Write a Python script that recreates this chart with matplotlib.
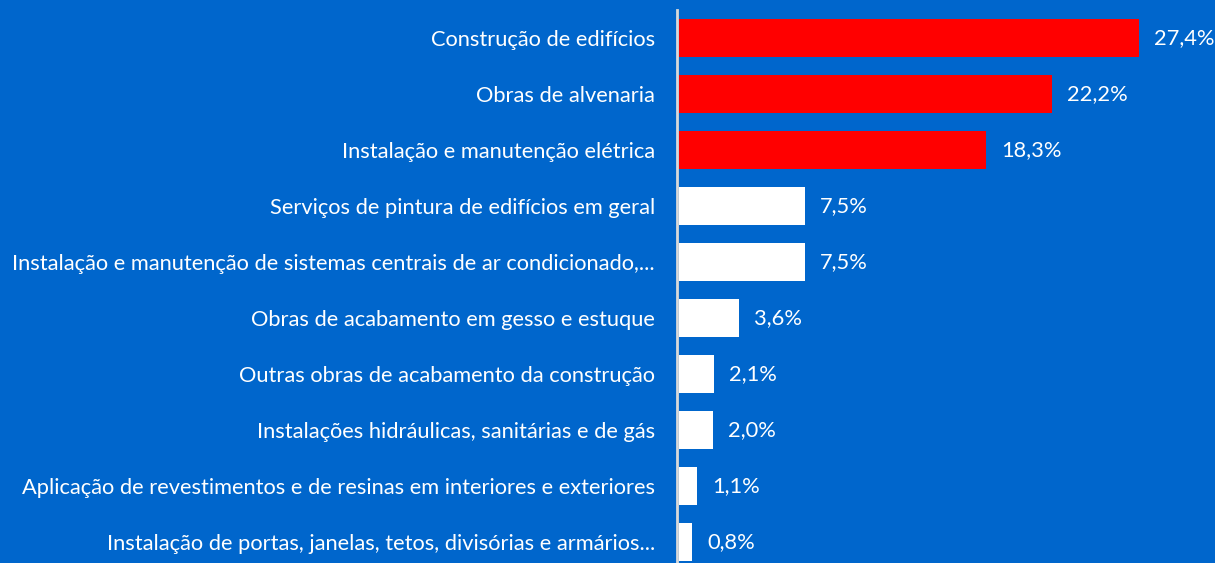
import matplotlib
matplotlib.use("Agg")
import matplotlib.pyplot as plt

categories = [
    "Construção de edifícios",
    "Obras de alvenaria",
    "Instalação e manutenção elétrica",
    "Serviços de pintura de edifícios em geral",
    "Instalação e manutenção de sistemas centrais de ar condicionado,...",
    "Obras de acabamento em gesso e estuque",
    "Outras obras de acabamento da construção",
    "Instalações hidráulicas, sanitárias e de gás",
    "Aplicação de revestimentos e de resinas em interiores e exteriores",
    "Instalação de portas, janelas, tetos, divisórias e armários...",
]
values = [27.4, 22.2, 18.3, 7.5, 7.5, 3.6, 2.1, 2.0, 1.1, 0.8]
value_labels = ["27,4%", "22,2%", "18,3%", "7,5%", "7,5%", "3,6%", "2,1%", "2,0%", "1,1%", "0,8%"]
highlight_count = 3

BG = "#0066CC"
RED = "#FF0000"
WHITE = "#FFFFFF"

plt.rcParams['font.family'] = ['Lato', 'DejaVu Sans']
FS = 15.75

W, H = 1215, 563
fig = plt.figure(figsize=(W / 100, H / 100), dpi=100, facecolor=BG)
left_px, right_px = 679, 1215
top_px, bot_px = 10, 570
ax = fig.add_axes([left_px / W, (H - bot_px) / H, (right_px - left_px) / W, (bot_px - top_px) / H])
ax.set_facecolor(BG)

n = len(categories)
ypos = list(range(n))
colors = [RED if i < highlight_count else WHITE for i in range(n)]
ax.barh(ypos, values, height=0.68, color=colors, zorder=2)
ax.set_ylim(n - 0.5, -0.5)
ax.set_xlim(0, (right_px - left_px) / 16.79)

ax.set_yticks(ypos)
ax.set_yticklabels(categories)
ax.tick_params(axis='y', length=0, pad=16, labelsize=FS, labelcolor=WHITE)
ax.set_xticks([])

for s in ['top', 'right', 'bottom']:
    ax.spines[s].set_visible(False)
ax.spines['left'].set_color('#D9D9D9')
ax.spines['left'].set_linewidth(2)
ax.spines['left'].set_position(('data', -0.1))

for y, v, lab in zip(ypos, values, value_labels):
    ax.annotate(lab, xy=(v, y), xytext=(15, 0), textcoords='offset pixels',
                va='center', ha='left', color=WHITE, fontsize=FS)

fig.savefig("out.png", dpi=100, facecolor=BG)
